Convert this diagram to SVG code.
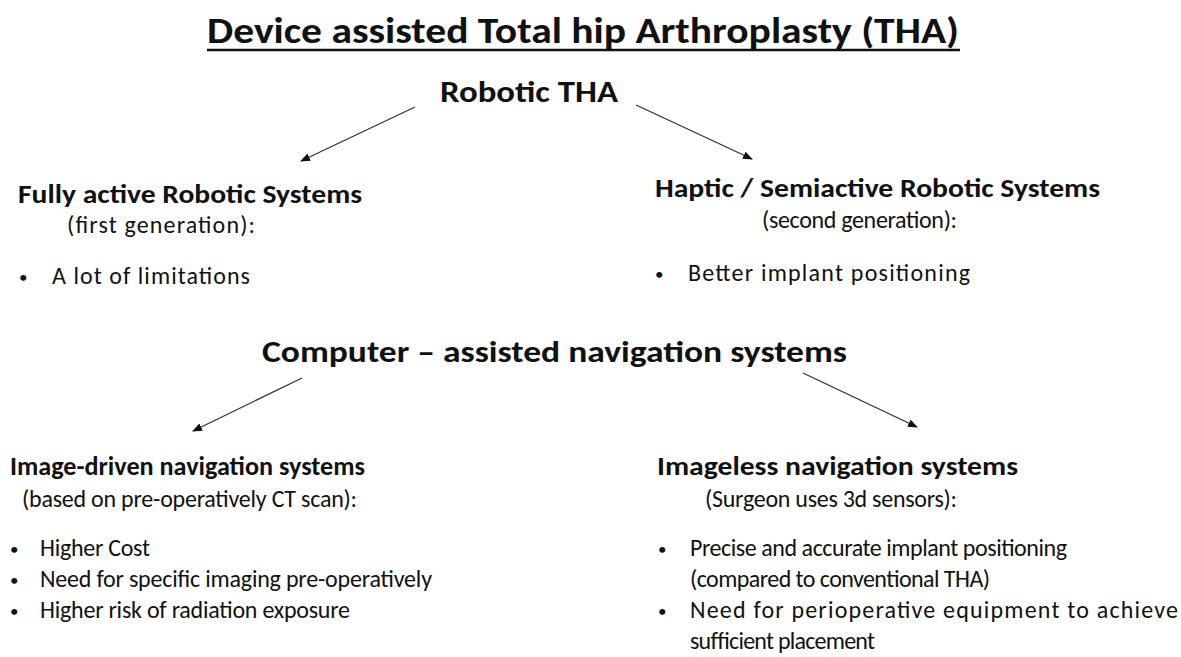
<svg xmlns="http://www.w3.org/2000/svg" width="1181" height="657" viewBox="0 0 1181 657">
<defs>
<style>
text{font-family:Carlito,Lato,"Liberation Sans",sans-serif;fill:#111}
.t{font-size:37px;font-weight:bold}
.h{font-size:31px;font-weight:bold}
.s{font-size:25.5px;font-weight:bold}
.r{font-size:24px}
.b{font-size:17px}
.c{stroke:#333;stroke-width:1.3;fill:none}
</style>
<marker id="ah" markerWidth="10" markerHeight="8" refX="9" refY="4" orient="auto" markerUnits="userSpaceOnUse">
<path d="M0,0 L10,4 L0,8 Z" fill="#111"/>
</marker>
</defs>
<rect width="1181" height="657" fill="#fff"/>
<g id="title">
<text class="t" x="207" y="43" textLength="752" lengthAdjust="spacingAndGlyphs">Device assisted Total hip Arthroplasty (THA)</text>
<line x1="207" y1="50" x2="960" y2="50" stroke="#111" stroke-width="2.5"/>
</g>
<g id="robotic">
<text class="h" x="440" y="102" textLength="178" lengthAdjust="spacingAndGlyphs">Robotic THA</text>
</g>
<g id="fully-active">
<text class="s" x="18" y="203" textLength="344" lengthAdjust="spacingAndGlyphs">Fully active Robotic Systems</text>
<text class="r" x="67" y="233" textLength="188" lengthAdjust="spacing">(first generation):</text>
<text class="b" x="19" y="283">•</text>
<text class="r" x="52" y="284" textLength="198" lengthAdjust="spacing">A lot of limitations</text>
</g>
<g id="haptic">
<text class="s" x="655" y="197" textLength="445" lengthAdjust="spacingAndGlyphs">Haptic / Semiactive Robotic Systems</text>
<text class="r" x="762" y="228" textLength="195" lengthAdjust="spacing">(second generation):</text>
<text class="b" x="655" y="280">•</text>
<text class="r" x="688" y="281" textLength="282" lengthAdjust="spacing">Better implant positioning</text>
</g>
<g id="computer">
<text class="h" x="262" y="362" textLength="585" lengthAdjust="spacingAndGlyphs">Computer – assisted navigation systems</text>
</g>
<g id="image-driven">
<text class="s" x="10" y="475" textLength="355" lengthAdjust="spacingAndGlyphs">Image-driven navigation systems</text>
<text class="r" x="22" y="507" textLength="335" lengthAdjust="spacing">(based on pre-operatively CT scan):</text>
<text class="b" x="10" y="555">•</text>
<text class="r" x="40" y="556" textLength="110" lengthAdjust="spacing">Higher Cost</text>
<text class="b" x="10" y="586">•</text>
<text class="r" x="40" y="587" textLength="392" lengthAdjust="spacing">Need for specific imaging pre-operatively</text>
<text class="b" x="10" y="617">•</text>
<text class="r" x="40" y="618" textLength="310" lengthAdjust="spacing">Higher risk of radiation exposure</text>
</g>
<g id="imageless">
<text class="s" x="657" y="475" textLength="361" lengthAdjust="spacingAndGlyphs">Imageless navigation systems</text>
<text class="r" x="705" y="507" textLength="252" lengthAdjust="spacing">(Surgeon uses 3d sensors):</text>
<text class="b" x="658" y="555">•</text>
<text class="r" x="690" y="556" textLength="377" lengthAdjust="spacing">Precise and accurate implant positioning</text>
<text class="r" x="690" y="587" textLength="300" lengthAdjust="spacing">(compared to conventional THA)</text>
<text class="b" x="658" y="617">•</text>
<text class="r" x="690" y="618" textLength="488" lengthAdjust="spacing">Need for perioperative equipment to achieve</text>
<text class="r" x="690" y="649" textLength="185" lengthAdjust="spacing">sufficient placement</text>
</g>
<g id="connectors">
<line class="c" x1="415" y1="107" x2="301" y2="161" marker-end="url(#ah)"/>
<line class="c" x1="636" y1="105" x2="752" y2="159" marker-end="url(#ah)"/>
<line class="c" x1="302" y1="378" x2="193" y2="431" marker-end="url(#ah)"/>
<line class="c" x1="803" y1="373" x2="917" y2="427" marker-end="url(#ah)"/>
</g>
</svg>
